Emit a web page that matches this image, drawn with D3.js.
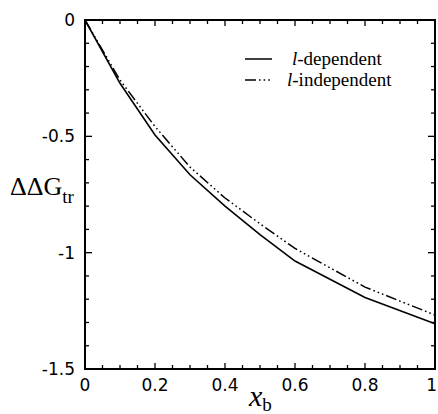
<!DOCTYPE html>
<html>
<head>
<meta charset="utf-8">
<script src="https://cdn.jsdelivr.net/npm/d3@7"></script>
<style>
  body { margin: 0; background: #fff; }
  svg { display: block; }
  .serif { font-family: "Liberation Serif", "Times New Roman", Times, serif; }
  .sans { font-family: "DejaVu Sans", Verdana, sans-serif; font-size: 17px; }
</style>
</head>
<body>
<svg id="chart" width="438" height="414"></svg>
<script>
const xb = [0, 0.1, 0.2, 0.3, 0.4, 0.5, 0.6, 0.8, 1.0];
const lDependent = [0, -0.272, -0.494, -0.665, -0.8, -0.922, -1.036, -1.193, -1.306];
const lIndependent = [0, -0.258, -0.458, -0.632, -0.765, -0.876, -0.982, -1.148, -1.268];
const xTicks = [0, 0.2, 0.4, 0.6, 0.8, 1];
const yTicks = [0, -0.5, -1, -1.5];

const svg = d3.select("#chart");
const plotL = 85, plotR = 435, plotT = 20, plotB = 369;

const x = d3.scaleLinear().domain([0, 1]).range([plotL, plotR]);
const y = d3.scaleLinear().domain([-1.5, 0]).range([plotB, plotT]);

const fmt = d => d === 0 ? "0" : String(d);

// minor ticks (inward), all four sides
const xMinor = d3.range(0, 1.0001, 0.05);
const yMinor = d3.range(-1.5, 0.0001, 0.1);

const ticks = svg.append("g").attr("stroke", "#000").attr("stroke-width", 1.3);
xMinor.forEach(v => {
    const major = Math.abs(v * 5 - Math.round(v * 5)) < 1e-6;
    const len = major ? 6 : 4;
    ticks.append("line").attr("x1", x(v)).attr("x2", x(v)).attr("y1", plotB).attr("y2", plotB - len);
    ticks.append("line").attr("x1", x(v)).attr("x2", x(v)).attr("y1", plotT).attr("y2", plotT + len);
});
yMinor.forEach(v => {
    const major = Math.abs(v * 2 - Math.round(v * 2)) < 1e-6;
    const len = major ? 7 : 4;
    ticks.append("line").attr("y1", y(v)).attr("y2", y(v)).attr("x1", plotL).attr("x2", plotL + len);
    ticks.append("line").attr("y1", y(v)).attr("y2", y(v)).attr("x1", plotR).attr("x2", plotR - len);
});

// frame
svg.append("rect")
    .attr("x", plotL).attr("y", plotT)
    .attr("width", plotR - plotL).attr("height", plotB - plotT)
    .attr("fill", "none").attr("stroke", "#000").attr("stroke-width", 2);

// tick labels
svg.append("g").selectAll("text").data(xTicks).enter().append("text")
    .attr("class", "sans")
    .attr("x", d => d === 1 ? 437 : x(d)).attr("y", plotB + 22)
    .attr("text-anchor", d => d === 1 ? "end" : "middle")
    .text(fmt);
svg.append("g").selectAll("text").data(yTicks).enter().append("text")
    .attr("class", "sans")
    .attr("x", plotL - 10).attr("y", d => y(d) + 6)
    .attr("text-anchor", "end")
    .text(fmt);

// lines
const line = vals => d3.line().x((d, i) => x(xb[i])).y(d => y(d))(vals);

svg.append("path").attr("d", line(lIndependent))
    .attr("fill", "none").attr("stroke", "#000").attr("stroke-width", 1.5)
    .attr("stroke-dasharray", "11,3,1.6,3,1.6,3,1.6,3");
svg.append("path").attr("d", line(lDependent))
    .attr("fill", "none").attr("stroke", "#000").attr("stroke-width", 1.6);

// legend
svg.append("line").attr("x1", 245).attr("x2", 272).attr("y1", 59).attr("y2", 59)
    .attr("stroke", "#000").attr("stroke-width", 1.5);
svg.append("line").attr("x1", 245).attr("x2", 272).attr("y1", 80).attr("y2", 80)
    .attr("stroke", "#000").attr("stroke-width", 1.5)
    .attr("stroke-dasharray", "11,3,1.6,3,1.6,3,1.6,3");

const leg1 = svg.append("text").attr("class", "serif").attr("x", 292).attr("y", 65)
    .attr("font-size", 19);
leg1.append("tspan").attr("font-style", "italic").text("l");
leg1.append("tspan").text("-dependent");
const leg2 = svg.append("text").attr("class", "serif").attr("x", 287).attr("y", 86)
    .attr("font-size", 19);
leg2.append("tspan").attr("font-style", "italic").text("l");
leg2.append("tspan").text("-independent");

// axis titles
const yTitle = svg.append("text").attr("class", "serif").attr("x", 10).attr("y", 195)
    .attr("font-size", 26);
yTitle.append("tspan").text("ΔΔG");
yTitle.append("tspan").attr("dy", 8).attr("font-size", 19).text("tr");

const xTitle = svg.append("text").attr("class", "serif").attr("x", 249).attr("y", 406)
    .attr("font-size", 30);
xTitle.append("tspan").attr("font-style", "italic").text("x");
xTitle.append("tspan").attr("dy", 5).attr("font-size", 19).text("b");
</script>
</body>
</html>
